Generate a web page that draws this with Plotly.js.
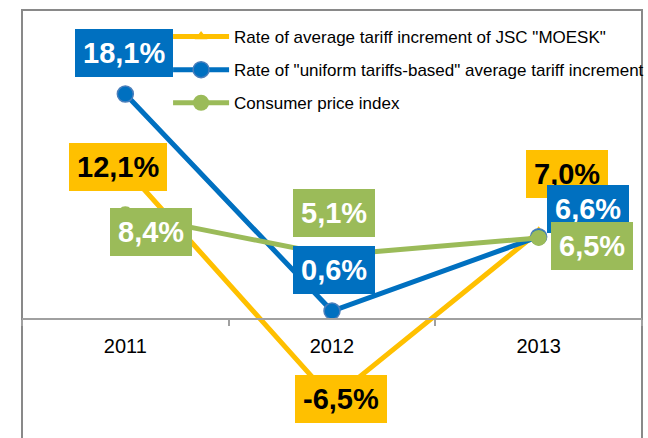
<!DOCTYPE html>
<html>
<head>
<meta charset="utf-8">
<script src="https://cdn.plot.ly/plotly-3.0.1.min.js"></script>
<style>html,body{margin:0;padding:0;background:#fff;overflow:hidden}</style>
</head>
<body>
<div id="chart" style="width:648px;height:438px"></div>
<script>
const categories = ['2011', '2012', '2013'];
const seriesNames = [
  'Rate of average tariff increment of JSC "MOESK"',
  'Rate of "uniform tariffs-based" average tariff increment',
  'Consumer price index'
];
const moesk = [12.1, -6.5, 7.0];
const uniform = [18.1, 0.6, 6.6];
const cpi = [8.4, 5.1, 6.5];

const FONT = '"Liberation Sans", Arial, sans-serif';
const YELLOW = '#FFC000', BLUE = '#0070C0', GREEN = '#9BBB59';

function fmt(v) { return v.toFixed(1).replace('.', ',') + '%'; }

const traces = [
  {x: categories, y: moesk, name: seriesNames[0], type: 'scatter', mode: 'lines+markers',
   legendgroup: 'a', line: {color: YELLOW, width: 5},
   marker: {symbol: 'triangle-up', size: 11, color: YELLOW}},
  {x: categories, y: uniform, name: seriesNames[1], type: 'scatter', mode: 'lines+markers',
   legendgroup: 'b', line: {color: BLUE, width: 5},
   marker: {symbol: 'circle', size: 16, color: BLUE, line: {color: '#4A7EBB', width: 1.5}}},
  {x: categories, y: cpi, name: seriesNames[2], type: 'scatter', mode: 'lines+markers',
   legendgroup: 'c', line: {color: GREEN, width: 5},
   marker: {symbol: 'circle', size: 16, color: GREEN}}
];

// label placement (style): [series, index, xshift, yshift]
const labelStyle = [
  [0, 0, -7, 1], [1, 0, -1, 40.6], [2, 0, 26, -18],
  [2, 1, 1.5, 42], [1, 1, 1.5, 41.5], [0, 1, 8.5, 0.6],
  [0, 2, 28.3, 57.7], [1, 2, 49.8, 27.7], [2, 2, 53.3, -7.6]
];
const seriesVals = [moesk, uniform, cpi];
const bg = [YELLOW, BLUE, GREEN];
const fg = ['#000000', '#FFFFFF', '#FFFFFF'];

const annotations = labelStyle.map(function (d) {
  const s = d[0], i = d[1];
  return {
    x: i, y: seriesVals[s][i], xref: 'x', yref: 'y',
    text: '<b>' + fmt(seriesVals[s][i]) + '</b>', showarrow: false,
    xanchor: 'center', yanchor: 'middle', xshift: d[2], yshift: d[3],
    bgcolor: bg[s], borderpad: 8, borderwidth: 0,
    font: {family: FONT, size: 29, color: fg[s]}
  };
});

const layout = {
  width: 648, height: 438,
  margin: {l: 22, r: 6, t: 10, b: 0, pad: 0, autoexpand: false},
  paper_bgcolor: '#FFFFFF', plot_bgcolor: '#FFFFFF',
  showlegend: true,
  legend: {x: 0.2356, y: 1 - 9/428, xanchor: 'left', yanchor: 'top',
           bgcolor: 'rgba(0,0,0,0)', borderwidth: 0, itemwidth: 56, tracegroupgap: 8,
           font: {family: FONT, size: 17, color: '#000000'}},
  xaxis: {type: 'category', range: [-0.5, 2.5], anchor: 'free', position: (438 - 318.5) / 428,
          showline: true, linecolor: '#A0A0A0', linewidth: 2, showgrid: false, zeroline: false,
          ticks: 'outside', tickson: 'boundaries', ticklen: 6, tickcolor: '#A0A0A0', tickwidth: 2,
          tickfont: {family: FONT, size: 20, color: '#000000'}, ticklabelstandoff: 9,
          fixedrange: true},
  yaxis: {range: [-(438 - 318.5) / 12.4, (318.5 - 10) / 12.4], showgrid: false, zeroline: false,
          showline: false, showticklabels: false, ticks: '', fixedrange: true},
  shapes: [{type: 'rect', xref: 'paper', yref: 'paper', x0: 0, x1: 1, y0: -0.05, y1: 1,
            line: {color: '#898989', width: 2}, layer: 'below'}],
  annotations: annotations
};

Plotly.newPlot('chart', traces, layout, {displayModeBar: false, staticPlot: true});
</script>
</body>
</html>
